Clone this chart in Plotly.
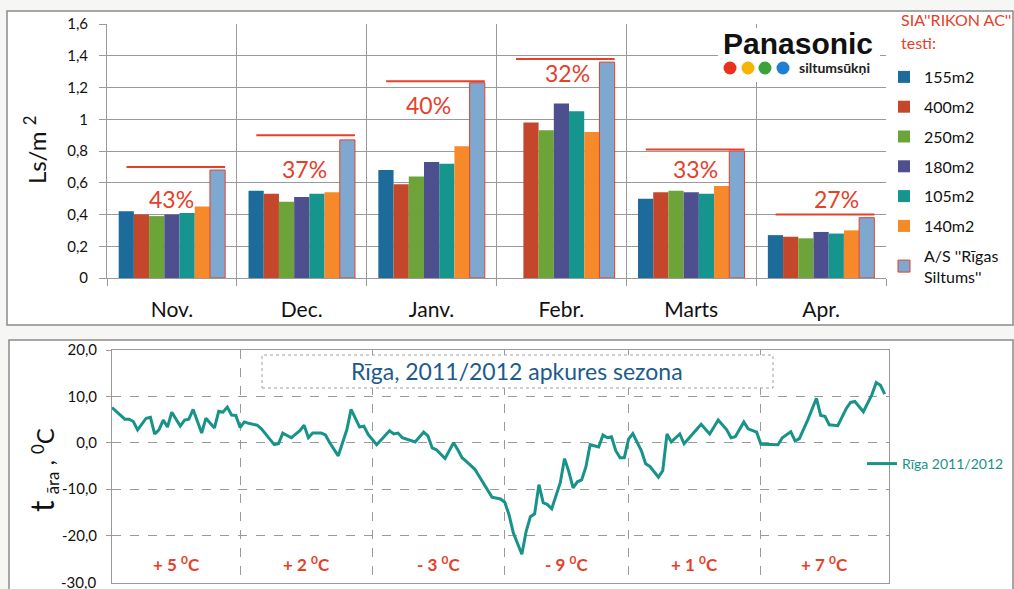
import plotly.graph_objects as go
import pandas as pd

W, H = 1014, 589

# ---------------- top chart data ----------------
months = ["Nov.", "Dec.", "Janv.", "Febr.", "Marts", "Apr."]
series_names = ["155m2", "400m2", "250m2", "180m2", "105m2", "140m2",
                "A/S ''Rīgas<br>Siltums''"]
v155 = [0.42, 0.55, 0.68, None, 0.50, 0.27]
v400 = [0.40, 0.53, 0.59, 0.98, 0.54, 0.26]
v250 = [0.39, 0.48, 0.64, 0.93, 0.55, 0.25]
v180 = [0.40, 0.51, 0.73, 1.10, 0.54, 0.29]
v105 = [0.41, 0.53, 0.72, 1.05, 0.53, 0.28]
v140 = [0.45, 0.54, 0.83, 0.92, 0.58, 0.30]
v_rs = [0.68, 0.87, 1.23, 1.36, 0.80, 0.38]
savings_pct = ["43%", "37%", "40%", "32%", "33%", "27%"]
level_marks = [0.70, 0.90, 1.24, 1.38, 0.81, 0.40]
pct_label_y = [0.50, 0.685, 1.09, 1.29, 0.685, 0.50]
top_ticks = [0, 0.2, 0.4, 0.6, 0.8, 1.0, 1.2, 1.4, 1.6]
top_ticktext = ["0", "0,2", "0,4", "0,6", "0,8", "1", "1,2", "1,4", "1,6"]

# ---------------- bottom chart data ----------------
temp_dates = [
    "2011-11-01", "2011-11-04", "2011-11-05", "2011-11-06", "2011-11-07", "2011-11-09",
    "2011-11-10", "2011-11-11", "2011-11-12", "2011-11-13", "2011-11-14", "2011-11-15",
    "2011-11-17", "2011-11-18", "2011-11-19", "2011-11-20", "2011-11-22", "2011-11-23",
    "2011-11-25", "2011-11-26", "2011-11-27", "2011-11-28", "2011-11-29", "2011-11-30",
    "2011-12-01", "2011-12-02", "2011-12-03", "2011-12-05", "2011-12-06", "2011-12-07",
    "2011-12-09", "2011-12-10", "2011-12-11", "2011-12-13", "2011-12-15", "2011-12-16",
    "2011-12-17", "2011-12-18", "2011-12-20", "2011-12-21", "2011-12-22", "2011-12-24",
    "2011-12-26", "2011-12-27", "2011-12-29", "2011-12-30", "2011-12-31",
    "2012-01-02", "2012-01-04", "2012-01-05", "2012-01-06", "2012-01-07", "2012-01-08",
    "2012-01-10", "2012-01-11", "2012-01-13", "2012-01-14", "2012-01-15", "2012-01-16",
    "2012-01-18", "2012-01-20", "2012-01-21", "2012-01-22", "2012-01-23", "2012-01-25",
    "2012-01-26", "2012-01-28", "2012-01-29", "2012-01-31",
    "2012-02-01", "2012-02-02", "2012-02-03", "2012-02-05", "2012-02-06", "2012-02-07",
    "2012-02-08", "2012-02-09", "2012-02-10", "2012-02-11", "2012-02-12", "2012-02-14",
    "2012-02-15", "2012-02-16", "2012-02-17", "2012-02-18", "2012-02-19", "2012-02-20",
    "2012-02-21", "2012-02-23", "2012-02-24", "2012-02-25", "2012-02-26", "2012-02-27",
    "2012-02-28", "2012-02-29",
    "2012-03-01", "2012-03-02", "2012-03-04", "2012-03-05", "2012-03-06", "2012-03-08",
    "2012-03-09", "2012-03-10", "2012-03-11", "2012-03-13", "2012-03-14", "2012-03-16",
    "2012-03-18", "2012-03-20", "2012-03-22", "2012-03-24", "2012-03-25", "2012-03-26",
    "2012-03-28", "2012-03-29", "2012-03-31",
    "2012-04-01", "2012-04-03", "2012-04-05", "2012-04-06", "2012-04-08", "2012-04-09",
    "2012-04-10", "2012-04-12", "2012-04-14", "2012-04-15", "2012-04-16", "2012-04-17",
    "2012-04-19", "2012-04-21", "2012-04-22", "2012-04-23", "2012-04-25", "2012-04-27",
    "2012-04-28", "2012-04-29", "2012-04-30",
]
temp_values = [
    7.6, 5.1, 5.1, 4.6, 2.8, 5.3,
    5.5, 1.9, 2.8, 4.9, 3.4, 6.6,
    3.6, 4.9, 5.1, 7.2, 2.1, 5.3,
    3.2, 6.8, 6.6, 7.7, 6.0, 5.9,
    3.3, 4.5, 4.2, 3.8, 3.0, 1.9,
    -0.4, -0.2, 2.1, 1.1, 2.6, 3.8,
    1.1, 2.1, 2.1, 1.7, 0.0, -2.8,
    2.8, 7.2, 3.4, 3.6, 1.8,
    -0.4, 1.7, 2.6, 1.9, 2.1, 1.1,
    0.4, 0.2, 2.3, 1.5, -1.1, -1.5,
    -3.4, 0.0, -1.5, -3.2, -4.0, -5.7,
    -7.2, -10.4, -11.7, -12.1,
    -12.8, -15.5, -19.4, -24.0, -19.1, -15.9,
    -15.3, -9.0, -12.9, -13.3, -14.2, -8.6,
    -3.4, -6.2, -9.7, -8.4, -8.0, -5.2,
    -0.4, -0.9, 1.7, 1.1, 1.3, -1.7,
    -3.2, -3.2,
    0.8, 2.0, -1.7, -4.5, -5.1, -7.4,
    -6.0, 1.9, 0.2, 1.9, -0.2, 1.9,
    4.0, 1.9, 4.9, 2.8, 1.1, 1.3,
    4.5, 3.0, 2.3,
    -0.3, -0.4, -0.4, 1.1, 2.4, 0.4,
    0.9, 5.0, 9.6, 5.9, 5.7, 3.9,
    3.7, 7.4, 8.7, 8.9, 6.7, 10.4,
    13.0, 12.4, 10.5,
]
month_starts = ["2011-11-01", "2011-12-01", "2012-01-01", "2012-02-01",
                "2012-03-01", "2012-04-01", "2012-05-01"]
month_means = ["+ 5 <sup>0</sup>C", "+ 2 <sup>0</sup>C", "- 3 <sup>0</sup>C",
               "- 9 <sup>0</sup>C", "+ 1 <sup>0</sup>C", "+ 7 <sup>0</sup>C"]
bottom_ticks = [-20, -10, 0, 10, 20]
bottom_ticktext = ["-20,0", "-10,0", "0,0", "10,0", "20,0"]
bottom_min_tick = -30
bottom_min_text = "-30,0"

# ---------------- styling ----------------
bar_colors = ["#1c6b9b", "#c4472c", "#6ca43a", "#4d4f8f", "#15958d", "#f68a2a", "#7ea8cf"]
RED = "#e5402a"
TEAL = "#17938a"
FONT = "Lato"


def px(x):
    return x / W


def py(y):
    return 1 - y / H


def note(x, y, text, size, color, **kw):
    d = dict(x=px(x), y=py(y), xref="paper", yref="paper", text=text, showarrow=False,
             xanchor="center", yanchor="middle",
             font=dict(family=kw.pop("family", FONT), size=size, color=color))
    d.update(kw)
    return d


fig = go.Figure()

series = [v155, v400, v250, v180, v105, v140, v_rs]
for i, (name, vals) in enumerate(zip(series_names, series)):
    fig.add_trace(go.Bar(
        x=months, y=vals, name=name,
        marker=dict(color=bar_colors[i],
                    line=dict(color=RED if i == 6 else bar_colors[i], width=1 if i == 6 else 0)),
        xaxis="x", yaxis="y", legend="legend", legendgroup=f"g{i}",
        hoverinfo="x+y+name",
    ))

fig.add_trace(go.Scatter(
    x=temp_dates, y=temp_values, mode="lines", name="Rīga 2011/2012",
    line=dict(color=TEAL, width=3),
    xaxis="x2", yaxis="y2", legend="legend2",
))

shapes = []
annotations = []

# panel frames
shapes.append(dict(type="rect", xref="paper", yref="paper",
                   x0=px(7), x1=px(1013), y0=py(325), y1=py(11),
                   line=dict(color="#8a8a8a", width=1.5), fillcolor="white", layer="below"))
shapes.append(dict(type="rect", xref="paper", yref="paper",
                   x0=px(9), x1=px(1013), y0=py(600), y1=py(340),
                   line=dict(color="#8a8a8a", width=1.5), fillcolor="white", layer="below"))

# red reference lines over each month group + percent labels
for i, lvl in enumerate(level_marks):
    shapes.append(dict(type="line", xref="x", yref="y",
                       x0=i - 0.35, x1=i + 0.41, y0=lvl, y1=lvl,
                       line=dict(color=RED, width=2)))
pct_dx = [0.0, 0.02, -0.02, 0.05, 0.03, 0.12]
for i, (lab, yv) in enumerate(zip(savings_pct, pct_label_y)):
    annotations.append(dict(x=i + pct_dx[i], y=yv, xref="x", yref="y", text=lab,
                            showarrow=False, xanchor="center", yanchor="middle",
                            font=dict(family=FONT, size=23, color=RED)))

# Panasonic logo
shapes.append(dict(type="rect", xref="paper", yref="paper",
                   x0=px(718), x1=px(880), y0=py(82), y1=py(28),
                   line=dict(width=0), fillcolor="white", layer="above"))
for cx, col in zip([730, 748, 765, 783], ["#e8321e", "#f5b400", "#3aa23a", "#1f7fd0"]):
    shapes.append(dict(type="circle", xref="paper", yref="paper",
                       x0=px(cx - 6.5), x1=px(cx + 6.5), y0=py(68 + 6.5), y1=py(68 - 6.5),
                       line=dict(width=0), fillcolor=col, layer="above"))
annotations.append(note(798, 43, "<b>Panasonic</b>", 30, "#111111", family="Liberation Sans"))
annotations.append(note(797, 68, "<b>siltumsūkņi</b>", 14, "#222222", xanchor="left"))

# legend title for top chart
annotations.append(note(899, 20, "SIA''RIKON AC''", 16, RED, xanchor="left"))
annotations.append(note(899, 42, "testi:", 16, RED, xanchor="left"))

# axis titles
annotations.append(note(35, 150, "Ls/m <sup>2</sup>", 24, "#111111", textangle=-90))
annotations.append(note(42, 470,
                        "<span style='font-size:32px'>t</span> <sub>āra</sub> , <sup>0</sup>C",
                        24, "#111111", textangle=-90))

# lowest tick label of the temperature axis (cut by the bottom edge)
annotations.append(dict(x=px(98), y=bottom_min_tick, xref="paper", yref="y2",
                        text=bottom_min_text, showarrow=False,
                        xanchor="right", yanchor="middle",
                        font=dict(family=FONT, size=15, color="#111111")))

# bottom chart title box
shapes.append(dict(type="rect", xref="paper", yref="paper",
                   x0=px(262), x1=px(773), y0=py(388), y1=py(355),
                   line=dict(color="#a0a0a0", width=1, dash="dot"), fillcolor="white", layer="above"))
annotations.append(note(517, 371, "Rīga, 2011/2012 apkures sezona", 23, "#1c5b8c"))

# monthly mean labels
ms = pd.to_datetime(month_starts)
for i, lab in enumerate(month_means):
    mid = ms[i] + (ms[i + 1] - ms[i]) / 2
    annotations.append(dict(x=mid, y=-26, xref="x2", yref="y2", text=f"<b>{lab}</b>",
                            showarrow=False, xanchor="center", yanchor="middle",
                            font=dict(family=FONT, size=17, color=RED)))

grid_col = "#9a9a9a"
fig.update_layout(
    width=W, height=H, autosize=False,
    margin=dict(l=0, r=0, t=0, b=0, pad=0, autoexpand=False),
    paper_bgcolor="#f6f6f4", plot_bgcolor="rgba(0,0,0,0)",
    font=dict(family=FONT, color="#111111"),
    barmode="group", bargap=0.18, bargroupgap=0,
    showlegend=True,
    xaxis=dict(domain=[px(107), px(886)], anchor="y", type="category",
               tickson="boundaries", ticks="outside", ticklen=7, tickcolor=grid_col,
               showgrid=True, gridcolor=grid_col, gridwidth=1,
               showline=True, linecolor=grid_col, mirror=False,
               tickfont=dict(family=FONT, size=21, color="#111111"),
               ticklabelstandoff=13, fixedrange=True),
    yaxis=dict(domain=[py(278), py(24)], anchor="x", range=[0, 1.6],
               tickvals=top_ticks, ticktext=top_ticktext,
               ticks="outside", ticklen=7, tickcolor=grid_col,
               showgrid=True, gridcolor=grid_col, gridwidth=1, zeroline=False,
               showline=True, linecolor=grid_col,
               tickfont=dict(family=FONT, size=15, color="#111111"),
               ticklabelstandoff=8, fixedrange=True),
    xaxis2=dict(domain=[px(112), px(889)], anchor="y2", type="date",
                range=[month_starts[0], month_starts[-1]],
                tickvals=month_starts, showticklabels=False, ticks="",
                showgrid=True, gridcolor=grid_col, gridwidth=1, griddash="dash",
                showline=True, linecolor=grid_col, mirror=True, fixedrange=True),
    yaxis2=dict(domain=[py(583), py(350)], anchor="x2", range=[-30.2, 20],
                tickvals=bottom_ticks, ticktext=bottom_ticktext,
                ticks="outside", ticklen=5, tickcolor=grid_col,
                showgrid=True, gridcolor=grid_col, gridwidth=1, griddash="dash", zeroline=False,
                showline=True, linecolor=grid_col, mirror=True,
                tickfont=dict(family=FONT, size=15, color="#111111"),
                ticklabelstandoff=6, fixedrange=True),
    legend=dict(x=px(884), y=py(60), xanchor="left", yanchor="top",
                bgcolor="rgba(0,0,0,0)", tracegroupgap=6,
                font=dict(family=FONT, size=16, color="#111111")),
    legend2=dict(x=px(862), y=py(464), xanchor="left", yanchor="middle",
                 bgcolor="rgba(0,0,0,0)",
                 font=dict(family=FONT, size=14, color=TEAL)),
    shapes=shapes, annotations=annotations,
)

fig.write_html("out.html", config={"displayModeBar": False},
               post_script="document.body.style.margin='0';document.body.style.overflow='hidden';")
